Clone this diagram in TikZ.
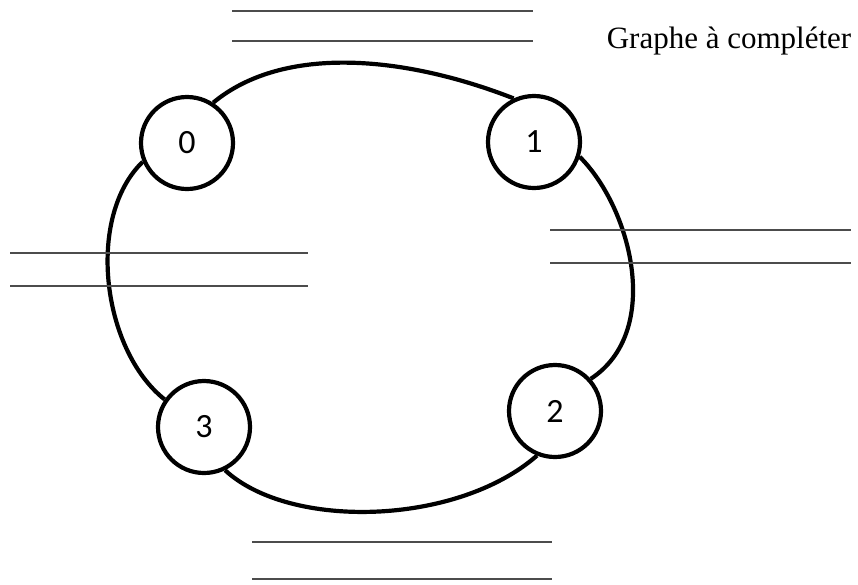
\documentclass[tikz,border=0pt]{standalone}
\usepackage{fontspec}
\setmainfont{Liberation Serif}
\newfontfamily\digitfont{Carlito}
\usepackage{tikz}

\begin{document}
\begin{tikzpicture}[x=1pt, y=-1pt,
    vertex/.style={circle, draw, line width=4.2pt, minimum size=92pt,
        inner sep=0pt, font=\digitfont\fontsize{34}{34}\selectfont},
    edge/.style={line width=4.2pt},
    blank/.style={line width=1.8pt, draw=black!70}]

\useasboundingbox (0,0) rectangle (858,584);

% Vertices
\node[vertex] (n0) at (187,143) {0};
\node[vertex] (n1) at (534,142) {1};
\node[vertex] (n2) at (555,411) {2};
\node[vertex] (n3) at (204,427) {3};

% Edges of the cycle
\draw[edge] (n0.57) .. controls +(70,-58) and +(-110,-43) .. (n1.115);
\draw[edge] (n1.-18) .. controls +(52,52) and +(72,-47) .. (n2.42);
\draw[edge] (n2.-112) .. controls +(-80,70) and +(65,60) .. (n3.-64);
\draw[edge] (n3.145) .. controls +(-63,-50) and +(-57,55) .. (n0.-157);

% Lines to fill in
\draw[blank] (232,11) -- (533,11);
\draw[blank] (232,41) -- (533,41);

\draw[blank] (10,253) -- (308,253);
\draw[blank] (10,286) -- (308,286);

\draw[blank] (550,230) -- (851,230);
\draw[blank] (550,263) -- (851,263);

\draw[blank] (252,542) -- (552,542);
\draw[blank] (252,579) -- (552,579);

% Title
\node[anchor=base, font=\fontsize{31}{31}\selectfont] (title) at (729,48)
    {Graphe à compléter};

\end{tikzpicture}
\end{document}
